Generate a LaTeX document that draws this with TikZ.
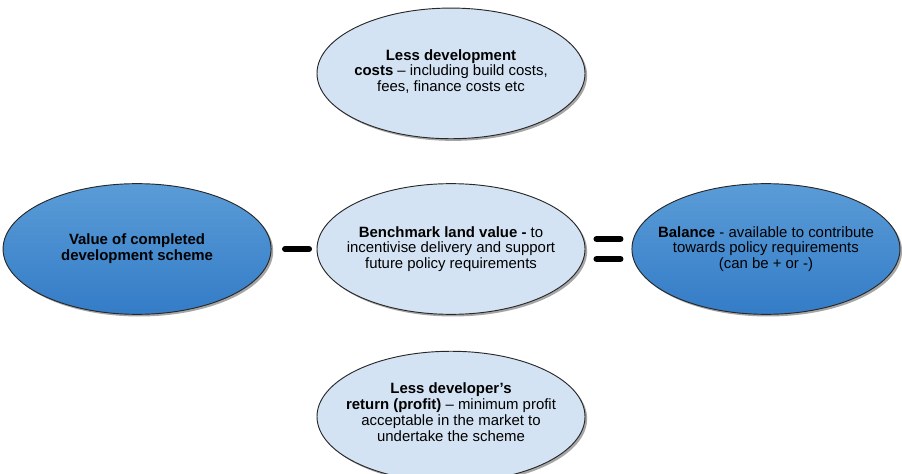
\documentclass[tikz,border=0pt]{standalone}
\usepackage{fontspec}
\setmainfont{Liberation Sans}
\usetikzlibrary{calc}
\usetikzlibrary{shapes.geometric}
\usetikzlibrary{shadows}
\usetikzlibrary{positioning}
\definecolor{pale-blue}{RGB}{212, 227, 243}
\definecolor{deep-blue-top}{RGB}{90, 156, 215}
\definecolor{deep-blue-bottom}{RGB}{52, 124, 199}
\definecolor{rim-grey}{RGB}{40, 40, 40}
\tikzset{
  oval/.style={ellipse, draw=rim-grey, line width=0.7pt, minimum width=201pt, minimum height=98pt, inner xsep=-30pt, inner ysep=0pt, align=center, font=\fontsize{11.2}{11.8}\selectfont,
    drop shadow={shadow xshift=1.6pt, shadow yshift=-1.6pt, fill=black, opacity=0.35}},
  paleoval/.style={oval, fill=pale-blue},
  deepoval/.style={oval, top color=deep-blue-top, bottom color=deep-blue-bottom},
  sign/.style={line width=4.5pt, line cap=round, black}
}

\begin{document}
\begin{tikzpicture}[x=0.75pt, y=-0.75pt]
\useasboundingbox (0,0) rectangle (902,474);
\node[paleoval] (land) at (451,249) {\textbf{Benchmark land value -} to\\incentivise delivery and support\\future policy requirements};
\node[deepoval, left=33.75pt of land] (value) {\textbf{Value of completed}\\\textbf{development scheme}};
\node[deepoval, right=34.5pt of land] (balance) {\textbf{Balance} - available to contribute\\towards policy requirements\\(can be + or -)};
\node[paleoval, above=33pt of land] (costs) {\textbf{Less development}\\\textbf{costs} -- including build costs,\\fees, finance costs etc\\[-7.3pt]};
\node[paleoval, below=27pt of land] (profit) {\textbf{Less developer's}\\\textbf{return (profit)} -- minimum profit\\acceptable in the market to\\undertake the scheme\\[-5pt]};

\coordinate (minus) at ($(value.east)!0.5!(land.west)+(3,0)$);
\coordinate (equals) at ($(land.east)!0.5!(balance.west)$);
\draw[sign] (minus) +(-12,0) -- +(12,0);
\draw[sign] (equals) +(-12,-10) -- +(12,-10);
\draw[sign] (equals) +(-12,10) -- +(12,10);
\end{tikzpicture}
\end{document}
